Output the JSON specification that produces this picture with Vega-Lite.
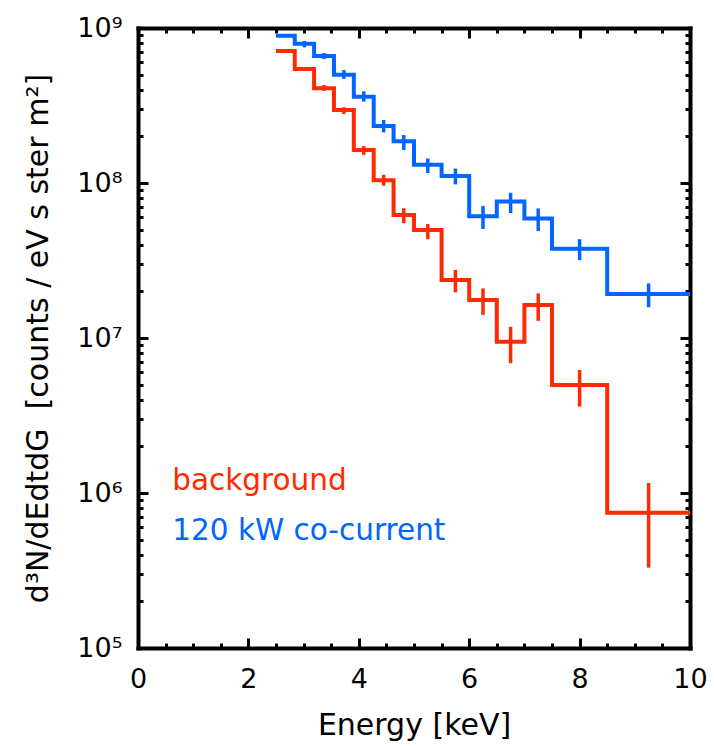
{
  "$schema": "https://vega.github.io/schema/vega-lite/v6.json",
  "width": 552,
  "height": 620,
  "autosize": {"type": "none"},
  "padding": {"left": 138, "top": 28, "right": 24, "bottom": 98},
  "background": "white",
  "config": {
    "view": {"stroke": null},
    "axis": {
      "grid": false,
      "labelFont": "DejaVu Sans",
      "titleFont": "DejaVu Sans",
      "labelColor": "black",
      "titleColor": "black",
      "titleFontWeight": "normal",
      "domainColor": "black",
      "tickColor": "black",
      "domainWidth": 4,
      "domainCap": "square",
      "tickWidth": 3
    }
  },
  "datasets": {
    "spec": [
      {"series": "120 kW co-current", "bin": 1, "x0": 2.5, "x1": 2.84, "v": 8.9e8, "lo": 8.9e8, "hi": 8.9e8},
      {"series": "120 kW co-current", "bin": 2, "x0": 2.84, "x1": 3.19, "v": 7.9e8, "lo": 7.5e8, "hi": 8.25e8},
      {"series": "120 kW co-current", "bin": 3, "x0": 3.19, "x1": 3.55, "v": 6.6e8, "lo": 6.3e8, "hi": 6.9e8},
      {"series": "120 kW co-current", "bin": 4, "x0": 3.55, "x1": 3.91, "v": 5.0e8, "lo": 4.7e8, "hi": 5.35e8},
      {"series": "120 kW co-current", "bin": 5, "x0": 3.91, "x1": 4.27, "v": 3.6e8, "lo": 3.35e8, "hi": 3.9e8},
      {"series": "120 kW co-current", "bin": 6, "x0": 4.27, "x1": 4.63, "v": 2.33e8, "lo": 2.12e8, "hi": 2.55e8},
      {"series": "120 kW co-current", "bin": 7, "x0": 4.63, "x1": 5.0, "v": 1.86e8, "lo": 1.63e8, "hi": 2.04e8},
      {"series": "120 kW co-current", "bin": 8, "x0": 5.0, "x1": 5.5, "v": 1.31e8, "lo": 1.16e8, "hi": 1.44e8},
      {"series": "120 kW co-current", "bin": 9, "x0": 5.5, "x1": 6.0, "v": 1.11e8, "lo": 9.8e7, "hi": 1.24e8},
      {"series": "120 kW co-current", "bin": 10, "x0": 6.0, "x1": 6.5, "v": 6.1e7, "lo": 5.05e7, "hi": 7.1e7},
      {"series": "120 kW co-current", "bin": 11, "x0": 6.5, "x1": 7.0, "v": 7.6e7, "lo": 6.4e7, "hi": 8.65e7},
      {"series": "120 kW co-current", "bin": 12, "x0": 7.0, "x1": 7.5, "v": 5.9e7, "lo": 4.9e7, "hi": 6.85e7},
      {"series": "120 kW co-current", "bin": 13, "x0": 7.5, "x1": 8.5, "v": 3.77e7, "lo": 3.18e7, "hi": 4.34e7},
      {"series": "120 kW co-current", "bin": 14, "x0": 8.5, "x1": 10, "v": 1.92e7, "lo": 1.58e7, "hi": 2.25e7},
      {"series": "background", "bin": 1, "x0": 2.5, "x1": 2.84, "v": 7.1e8, "lo": 7.1e8, "hi": 7.1e8},
      {"series": "background", "bin": 2, "x0": 2.84, "x1": 3.19, "v": 5.43e8, "lo": 5.43e8, "hi": 5.43e8},
      {"series": "background", "bin": 3, "x0": 3.19, "x1": 3.55, "v": 4.08e8, "lo": 3.93e8, "hi": 4.29e8},
      {"series": "background", "bin": 4, "x0": 3.55, "x1": 3.91, "v": 2.96e8, "lo": 2.79e8, "hi": 3.08e8},
      {"series": "background", "bin": 5, "x0": 3.91, "x1": 4.27, "v": 1.63e8, "lo": 1.52e8, "hi": 1.73e8},
      {"series": "background", "bin": 6, "x0": 4.27, "x1": 4.63, "v": 1.04e8, "lo": 9.6e7, "hi": 1.13e8},
      {"series": "background", "bin": 7, "x0": 4.63, "x1": 5.0, "v": 6.22e7, "lo": 5.5e7, "hi": 6.87e7},
      {"series": "background", "bin": 8, "x0": 5.0, "x1": 5.5, "v": 4.98e7, "lo": 4.34e7, "hi": 5.44e7},
      {"series": "background", "bin": 9, "x0": 5.5, "x1": 6.0, "v": 2.37e7, "lo": 1.97e7, "hi": 2.75e7},
      {"series": "background", "bin": 10, "x0": 6.0, "x1": 6.5, "v": 1.76e7, "lo": 1.41e7, "hi": 2.09e7},
      {"series": "background", "bin": 11, "x0": 6.5, "x1": 7.0, "v": 9.46e6, "lo": 6.87e6, "hi": 1.18e7},
      {"series": "background", "bin": 12, "x0": 7.0, "x1": 7.5, "v": 1.63e7, "lo": 1.29e7, "hi": 1.94e7},
      {"series": "background", "bin": 13, "x0": 7.5, "x1": 8.5, "v": 4.98e6, "lo": 3.61e6, "hi": 6.22e6},
      {"series": "background", "bin": 14, "x0": 8.5, "x1": 10, "v": 7.46e5, "lo": 3.3e5, "hi": 1.16e6}
    ],
    "legend": [
      {"series": "background", "label": "background", "e": 0.62, "v": 1.05e6},
      {"series": "120 kW co-current", "label": "120 kW co-current", "e": 0.62, "v": 5.0e5}
    ]
  },
  "data": {"name": "spec"},
  "resolve": {"axis": {"x": "independent", "y": "independent"}},
  "layer": [
    {
      "transform": [{"fold": ["x0", "x1"], "as": ["edge", "e"]}],
      "mark": {"type": "line", "strokeWidth": 4, "strokeJoin": "miter", "strokeCap": "butt"},
      "encoding": {
        "x": {
          "field": "e", "type": "quantitative",
          "scale": {"domain": [0, 10], "nice": false, "zero": false},
          "axis": {
            "orient": "bottom",
            "values": [0, 0.5, 1, 1.5, 2, 2.5, 3, 3.5, 4, 4.5, 5, 5.5, 6, 6.5, 7, 7.5, 8, 8.5, 9, 9.5, 10],
            "labelExpr": "datum.value % 2 === 0 ? '' + datum.value : ''",
            "labelOverlap": false,
            "labelFlush": false,
            "labelFontSize": 27,
            "labelPadding": 28,
            "tickSize": {"condition": {"test": "datum.value % 2 === 0", "value": -10}, "value": -5},
            "title": "Energy [keV]",
            "titleFontSize": 30,
            "titlePadding": 13
          }
        },
        "y": {
          "field": "v", "type": "quantitative",
          "scale": {"type": "log", "domain": [100000, 1000000000], "nice": false},
          "axis": {
            "orient": "left",
            "values": [100000, 200000, 300000, 400000, 500000, 600000, 700000, 800000, 900000, 1000000, 2000000, 3000000, 4000000, 5000000, 6000000, 7000000, 8000000, 9000000, 10000000, 20000000, 30000000, 40000000, 50000000, 60000000, 70000000, 80000000, 90000000, 100000000, 200000000, 300000000, 400000000, 500000000, 600000000, 700000000, 800000000, 900000000, 1000000000],
            "labelExpr": "abs(log(datum.value)/LN10 - round(log(datum.value)/LN10)) < 0.001 ? '10' + ['⁰','¹','²','³','⁴','⁵','⁶','⁷','⁸','⁹'][round(log(datum.value)/LN10)] : ''",
            "labelOverlap": false,
            "labelFlush": false,
            "labelFontSize": 27,
            "labelPadding": 26,
            "tickSize": {"condition": {"test": "abs(log(datum.value)/LN10 - round(log(datum.value)/LN10)) < 0.001", "value": -10}, "value": -5},
            "title": "d³N/dEdtdG\u00a0\u00a0[counts / eV s ster m²]",
            "titleFontSize": 30,
            "titlePadding": 23
          }
        },
        "color": {
          "field": "series", "type": "nominal",
          "scale": {"domain": ["background", "120 kW co-current"], "range": ["#FF2B00", "#0066FF"]},
          "legend": null
        },
        "order": [{"field": "bin", "type": "quantitative"}, {"field": "edge", "type": "ordinal"}]
      }
    },
    {
      "transform": [{"calculate": "(datum.x0 + datum.x1) / 2", "as": "xc"}],
      "mark": {"type": "rule", "strokeWidth": 3.5, "strokeCap": "butt"},
      "encoding": {
        "x": {
          "field": "xc", "type": "quantitative",
          "scale": {"domain": [0, 10], "nice": false, "zero": false},
          "axis": {
            "orient": "top",
            "values": [0, 0.5, 1, 1.5, 2, 2.5, 3, 3.5, 4, 4.5, 5, 5.5, 6, 6.5, 7, 7.5, 8, 8.5, 9, 9.5, 10],
            "labels": false,
            "title": null,
            "tickSize": {"condition": {"test": "datum.value % 2 === 0", "value": -10}, "value": -5}
          }
        },
        "y": {
          "field": "lo", "type": "quantitative",
          "scale": {"type": "log", "domain": [100000, 1000000000], "nice": false},
          "axis": {
            "orient": "right",
            "values": [100000, 200000, 300000, 400000, 500000, 600000, 700000, 800000, 900000, 1000000, 2000000, 3000000, 4000000, 5000000, 6000000, 7000000, 8000000, 9000000, 10000000, 20000000, 30000000, 40000000, 50000000, 60000000, 70000000, 80000000, 90000000, 100000000, 200000000, 300000000, 400000000, 500000000, 600000000, 700000000, 800000000, 900000000, 1000000000],
            "labels": false,
            "title": null,
            "tickSize": {"condition": {"test": "abs(log(datum.value)/LN10 - round(log(datum.value)/LN10)) < 0.001", "value": -10}, "value": -5}
          }
        },
        "y2": {"field": "hi"},
        "color": {"field": "series", "type": "nominal", "legend": null}
      }
    },
    {
      "data": {"name": "legend"},
      "mark": {"type": "text", "align": "left", "baseline": "alphabetic", "font": "DejaVu Sans", "fontSize": 29.5},
      "encoding": {
        "x": {"field": "e", "type": "quantitative", "axis": null},
        "y": {"field": "v", "type": "quantitative", "axis": null},
        "text": {"field": "label"},
        "color": {"field": "series", "type": "nominal", "legend": null}
      }
    }
  ]
}
